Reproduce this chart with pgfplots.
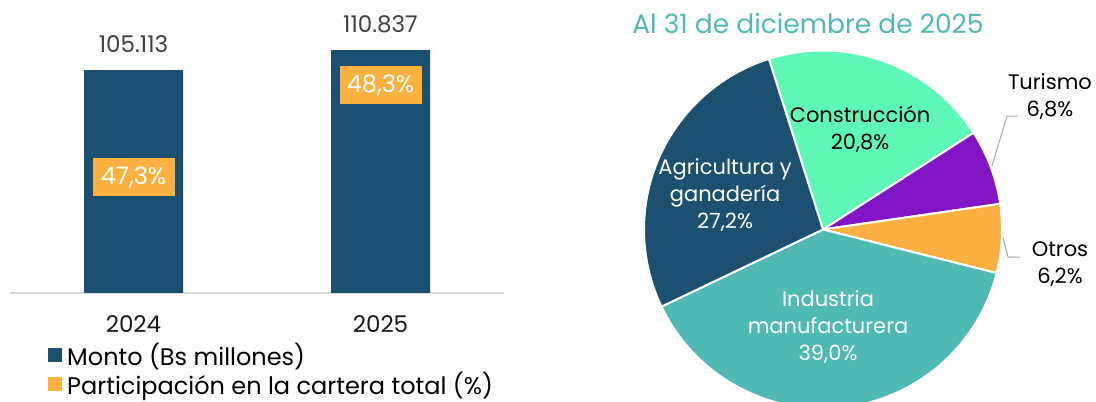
\documentclass[border=0pt]{standalone}
\usepackage{fontspec}
\setmainfont{Poppins}
\usepackage{pgfplots}
\pgfplotsset{compat=1.18}
\definecolor{dblue}{HTML}{1B5070}
\definecolor{orng}{HTML}{FBB040}
\definecolor{mint}{HTML}{5FF7B6}
\definecolor{purp}{HTML}{8215C5}
\definecolor{pteal}{HTML}{4FB9B3}
\definecolor{axgray}{HTML}{D9D9D9}
\newcommand\lblfont{\fontsize{21bp}{27bp}\selectfont}
\newcommand\barfont{\fontsize{23bp}{27bp}\selectfont}
\newcommand\legfont{\fontsize{24bp}{28bp}\selectfont}
\begin{document}
\begin{tikzpicture}
% ---------------- bar chart ----------------
\begin{axis}[
  at={(10bp,109bp)}, anchor=south west,
  scale only axis, width=494bp, height=293bp,
  xmin=-0.5, xmax=1.5, ymin=41.4, ymax=125.2,
  axis x line*=bottom, axis y line=none,
  axis line style={draw=axgray, line width=1.5bp, -},
  xtick={0,1}, xticklabels={2024,2025}, major tick length=0pt,
  xticklabel style={font=\barfont, text=black!90, inner sep=0pt, yshift=-22bp},
  ytick=\empty,
  ybar, bar width=99bp,
  nodes near coords={\pgfmathprintnumber[assume math mode=true,fixed,fixed zerofill,precision=3]{\pgfplotspointmeta}},
  every node near coord/.append style={anchor=south, inner sep=0pt, yshift=17bp, font=\barfont, text=black!75},
]
\addplot[fill=dblue, draw=none, bar shift=0pt] coordinates {(0,105.113) (1,110.837)};
\end{axis}
% ---------------- participation labels + legend ----------------
\begin{axis}[
  at={(10bp,109bp)}, anchor=south west,
  scale only axis, width=494bp, height=293bp,
  xmin=-0.5, xmax=1.5, ymin=46.039, ymax=49.224,
  hide axis, clip=false,
  legend style={at={(axis description cs:0.077,-0.163)}, anchor=north west, draw=none, fill=none,
    inner sep=0pt, font=\legfont, row sep=1bp, legend cell align=left},
]
\addlegendimage{legend image code/.code={\fill[dblue,draw=none] (0bp,-7bp) rectangle (14bp,7bp); \path[draw=none,fill=none] (14bp,0) -- (17bp,0);}}
\addlegendentry{Monto (Bs millones)}
\addplot[draw=none, mark=none,
  legend image code/.code={\fill[orng,draw=none] (0bp,-7bp) rectangle (14bp,7bp); \path[draw=none,fill=none] (14bp,0) -- (17bp,0);},
  nodes near coords={\pgfmathprintnumber[assume math mode=true,fixed,fixed zerofill,precision=1,use comma]{\pgfplotspointmeta}\%},
  every node near coord/.append style={anchor=center, fill=orng, text=white, inner sep=0pt,
    minimum width=82bp, minimum height=38bp, font=\fontsize{24bp}{28bp}\selectfont},
] coordinates {(0,47.3) (1,48.3)};
\addlegendentry{Participación en la cartera total (\%)}
\end{axis}
% ---------------- pie chart ----------------
\begin{axis}[
  at={(823bp,172.5bp)}, anchor=center,
  scale only axis, width=358bp, height=358bp,
  xmin=-1, xmax=1, ymin=-1, ymax=1,
  hide axis, clip=false,
  title={Al 31 de diciembre de 2025},
  title style={at={(axis description cs:0.458,1.032)}, anchor=base, inner sep=0pt,
    font=\fontsize{26.5bp}{30bp}\selectfont, text=pteal},
]
\pgfplotsextra{
  \xdef\angA{107.6}
  \foreach \p/\c in {20.8/mint, 6.8/purp, 6.2/orng, 39.0/pteal, 27.2/dblue}{
    \pgfmathsetmacro\angB{\angA-3.6*\p}
    \fill[\c, draw=white, line width=2bp] (axis cs:0,0) -- ++(\angA:179bp)
      arc[start angle=\angA, end angle=\angB, radius=179bp] -- cycle;
    \xdef\angA{\angB}
  }
}
\draw[gray!70, line width=1bp] (axis cs:0.944,0.355) -- (axis cs:1.028,0.634) -- (axis cs:1.089,0.634);
\draw[gray!70, line width=1bp] (axis cs:1.006,-0.047) -- (axis cs:1.034,-0.154) -- (axis cs:1.101,-0.154);
\node[align=center, font=\lblfont, text=black] at (axis cs:0.207,0.559) {Construcción\\20,8\%};
\node[align=center, font=\lblfont, text=white] at (axis cs:-0.547,0.193) {Agricultura y\\ganadería\\27,2\%};
\node[align=center, font=\lblfont, text=white] at (axis cs:0.028,-0.542) {Industria\\manufacturera\\39,0\%};
\node[align=center, font=\lblfont, text=black] at (axis cs:1.268,0.743) {Turismo\\6,8\%};
\node[align=center, font=\lblfont, text=black] at (axis cs:1.324,-0.196) {Otros\\6,2\%};
\end{axis}
\pgfresetboundingbox
\useasboundingbox (0,0) rectangle (1096bp,402bp);
\end{tikzpicture}
\end{document}
